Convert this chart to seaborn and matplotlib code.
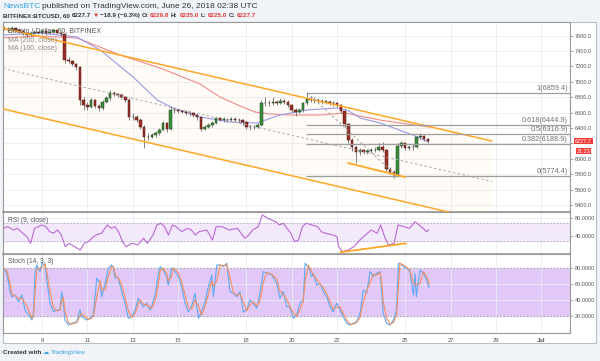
import matplotlib
matplotlib.use("Agg")
import numpy as np
import pandas as pd
import matplotlib.pyplot as plt
import seaborn as sns
from matplotlib.patches import Rectangle

# ---- price data: 4h candles from June 7 08:00 (x in "June day" units) ----
first_open = 7700
closes = [
    7690, 7670, 7700, 7680,
    7660, 7640, 7610, 7630, 7650, 7640,
    7660, 7630, 7650, 7670, 7640, 7620,
    7280, 7270, 7230, 7190, 6760, 6700,
    6680, 6760, 6690, 6660, 6740, 6790,
    6860, 6840, 6830, 6800, 6770, 6540,
    6550, 6510, 6420, 6280, 6290, 6310,
    6330, 6380, 6460, 6390, 6640, 6630,
    6620, 6610, 6600, 6590, 6570, 6540,
    6390, 6420, 6440, 6470, 6530, 6510,
    6510, 6500, 6520, 6510, 6500, 6480,
    6420, 6410, 6420, 6440, 6720, 6730,
    6720, 6740, 6730, 6750, 6740, 6700,
    6640, 6610, 6630, 6720, 6780, 6770,
    6760, 6750, 6740, 6740, 6730, 6720,
    6700, 6620, 6450, 6250, 6150, 6090,
    6110, 6090, 6100, 6110, 6120, 6150,
    6120, 5870, 5830, 5790, 6170, 6200,
    6140, 6150, 6160, 6280, 6300, 6260,
    6228,
]
highs = [
    7720, 7710, 7720, 7715,
    7695, 7670, 7650, 7645, 7670, 7665,
    7680, 7670, 7665, 7690, 7680, 7650,
    7630, 7320, 7290, 7250, 7200, 6800,
    6740, 6790, 6780, 6710, 6760, 6820,
    6890, 6880, 6860, 6850, 6820, 6790,
    6590, 6570, 6530, 6440, 6330, 6340,
    6360, 6400, 6490, 6480, 6690, 6670,
    6650, 6640, 6630, 6620, 6600, 6590,
    6550, 6440, 6460, 6490, 6550, 6550,
    6540, 6530, 6550, 6540, 6530, 6520,
    6490, 6440, 6440, 6470, 6760, 6800,
    6760, 6800, 6770, 6790, 6780, 6760,
    6710, 6660, 6660, 6740, 6860, 6820,
    6800, 6790, 6780, 6770, 6760, 6750,
    6740, 6710, 6630, 6460, 6270, 6170,
    6140, 6130, 6130, 6140, 6160, 6200,
    6220, 6130, 5890, 5850, 6200, 6230,
    6210, 6180, 6190, 6300, 6330, 6310,
    6270,
]
lows = [
    7670, 7650, 7660, 7665,
    7640, 7610, 7580, 7595, 7620, 7620,
    7625, 7610, 7620, 7640, 7620, 7590,
    7250, 7240, 7200, 7160, 6700, 6640,
    6640, 6660, 6660, 6620, 6640, 6720,
    6770, 6820, 6800, 6780, 6740, 6500,
    6500, 6480, 6390, 6140, 6240, 6270,
    6290, 6310, 6370, 6350, 6380, 6600,
    6590, 6590, 6570, 6560, 6540, 6500,
    6360, 6370, 6400, 6420, 6450, 6490,
    6480, 6480, 6490, 6490, 6470, 6440,
    6390, 6380, 6390, 6400, 6430, 6690,
    6690, 6700, 6700, 6710, 6710, 6670,
    6610, 6560, 6590, 6610, 6700, 6740,
    6730, 6720, 6710, 6710, 6700, 6690,
    6670, 6590, 6420, 6200, 6100, 5945,
    6050, 6060, 6060, 6070, 6090, 6100,
    6090, 5840, 5800, 5755, 5780, 6140,
    6110, 6110, 6120, 6140, 6260, 6230,
    6210,
]
candle_day = 7 + 8 / 24 + np.arange(len(closes)) / 6

# moving averages (read at coarse points)
ma200_day = [7.28, 8.91, 10.54, 12.44, 14.20, 15.08, 15.96, 16.84, 17.72, 18.38,
             19.04, 19.93, 21.25, 22.35, 23.01, 23.89, 24.77, 26.09]
ma200_val = [7570, 7596, 7570, 7349, 7180, 7077, 6973, 6804, 6687, 6609,
             6583, 6570, 6570, 6596, 6557, 6505, 6466, 6414]
ma100_day = [7.28, 8.91, 10.54, 11.56, 13.01, 14.07, 14.77, 15.96, 17.28, 18.47,
             19.48, 20.67, 21.99, 22.44, 23.01, 23.89, 25.34, 26.0]
ma100_val = [7609, 7635, 7583, 7414, 7064, 6765, 6661, 6544, 6479, 6466,
             6570, 6635, 6661, 6635, 6531, 6466, 6310, 6219]

# drawings
channel_day = [7.28, 28.82]
channel_upper = [7700, 6232]
channel_lower = [6648, 5180]
fib_start_day = 20.63
fib_ratio = ["1", "0.618", "0.5", "0.382", "0"]
fib_price = [6859.4, 6444.9, 6316.9, 6188.9, 5774.4]
fib_diag_day = [20.68, 24.64]
fib_diag_price = [6859.4, 5774.4]
support_day = [22.48, 24.99]
support_price = [5946, 5764]

# RSI (9, close)
rsi_day = [7.28, 7.49, 7.74, 7.91, 8.08, 8.33, 8.50, 8.67, 8.84, 9.00, 9.17, 9.34,
           9.51, 9.68, 9.85, 10.02, 10.19, 10.44, 10.69, 10.86, 11.03, 11.19, 11.37,
           11.62, 11.87, 12.04, 12.21, 12.37, 12.55, 12.71, 12.96, 13.22, 13.47, 13.64,
           13.89, 14.06, 14.23, 14.40, 14.57, 14.74, 14.90, 15.16, 15.41, 15.58, 15.75,
           15.92, 16.26, 16.51, 16.67, 16.93, 17.26, 17.60, 17.77, 17.94, 18.11, 18.28,
           18.53, 18.70, 18.95, 19.29, 19.46, 19.63, 19.79, 19.96, 20.13, 20.30, 20.47,
           20.64, 20.89, 21.14, 21.31, 21.48, 21.82, 21.99, 22.07, 22.24, 22.49, 22.74,
           23.00, 23.25, 23.50, 23.76, 23.92, 24.09, 24.26, 24.51, 24.68, 24.94, 25.19,
           25.44, 25.70, 25.95, 26.03]
rsi_val = [57.7, 61.2, 54.0, 57.7, 50.3, 39.4, 24.9, 57.7, 61.2, 64.9, 61.2, 50.3,
           46.8, 54.0, 43.0, 17.5, 24.9, 17.5, 10.3, 24.9, 28.5, 35.8, 43.0,
           46.8, 64.9, 57.7, 61.2, 50.3, 28.5, 17.5, 24.9, 21.2, 35.8, 24.9,
           43.0, 64.9, 68.6, 61.2, 43.0, 64.9, 61.2, 50.3, 57.7, 54.0, 43.0,
           50.3, 54.0, 32.1, 61.2, 61.2, 54.0, 57.7, 46.8, 35.8, 43.0, 54.0,
           61.2, 86.8, 79.6, 72.1, 64.9, 68.6, 57.7, 46.8, 28.5, 32.1, 61.2,
           68.6, 64.9, 61.2, 50.3, 46.8, 43.0, 39.4, 17.5, 6.6, 10.3, 17.5,
           32.1, 43.0, 54.0, 46.8, 64.9, 39.4, 21.2, 24.9, 64.9, 61.2, 57.7,
           72.1, 61.2, 50.3, 54.0]
rsi_trend_day = [22.13, 25.04]
rsi_trend_val = [5.2, 24.9]

# Stoch (14, 3, 3) %K
stoch_day = [7.30, 7.45, 7.59, 7.67, 7.81, 7.96, 8.11, 8.25, 8.47, 8.55, 8.62, 8.69,
             8.77, 8.91, 8.99, 9.13, 9.21, 9.35, 9.50, 9.65, 9.79, 9.87, 9.94, 10.01,
             10.16, 10.31, 10.53, 10.67, 10.75, 10.97, 11.11, 11.26, 11.41, 11.56, 11.63,
             11.78, 11.92, 12.07, 12.14, 12.22, 12.29, 12.36, 12.51, 12.66, 12.80, 12.95,
             13.10, 13.24, 13.32, 13.46, 13.61, 13.76, 13.83, 13.98, 14.12, 14.20, 14.34,
             14.49, 14.56, 14.71, 14.78, 15.00, 15.15, 15.30, 15.44, 15.59, 15.74, 15.89,
             16.03, 16.18, 16.33, 16.48, 16.55, 16.70, 16.84, 16.99, 17.14, 17.28, 17.43,
             17.58, 17.72, 17.87, 18.02, 18.16, 18.31, 18.46, 18.60, 18.75, 18.90, 19.12,
             19.34, 19.48, 19.63, 19.78, 19.92, 20.07, 20.22, 20.37, 20.51, 20.59, 20.73,
             20.88, 20.95, 21.10, 21.25, 21.39, 21.54, 21.69, 21.83, 21.98, 22.13, 22.27,
             22.42, 22.57, 22.71, 22.86, 23.01, 23.15, 23.30, 23.45, 23.59, 23.74, 23.89,
             23.96, 24.03, 24.18, 24.33, 24.48, 24.62, 24.70, 24.77, 24.92, 25.07, 25.21,
             25.36, 25.43, 25.49, 25.65, 25.80, 25.95, 26.06]
stoch_k = [80.0, 73.7, 50.6, 44.3, 46.4, 38.0, 46.4, 27.5, 19.1, 15.0, 23.4, 73.7,
           84.2, 75.8, 86.3, 84.2, 65.3, 36.0, 25.4, 27.5, 27.5, 50.6, 36.0, 15.0,
           8.7, 10.8, 12.8, 27.5, 19.1, 15.0, 17.1, 21.3, 67.4, 61.1, 44.3,
           61.1, 80.0, 84.2, 80.0, 67.4, 69.5, 67.4, 50.6, 36.0, 17.1, 19.1,
           27.5, 42.3, 38.0, 31.7, 36.0, 27.5, 31.7, 46.4, 71.6, 82.0, 77.9,
           69.5, 59.0, 80.0, 80.0, 69.5, 56.9, 36.0, 25.4, 31.7, 48.6, 17.1,
           25.4, 38.0, 56.9, 71.6, 44.3, 84.2, 84.2, 82.0, 86.3, 50.6, 48.6,
           44.3, 50.6, 25.4, 27.5, 40.1, 36.0, 29.7, 48.6, 75.8, 73.7, 71.6,
           61.1, 42.3, 50.6, 31.7, 31.7, 17.1, 21.3, 37.0, 40.1, 86.3, 82.0,
           69.5, 73.7, 59.0, 61.1, 50.6, 44.3, 31.7, 25.4, 36.0, 27.5, 19.1,
           10.8, 8.7, 10.8, 12.8, 23.4, 52.7, 48.6, 75.8, 69.5, 73.7, 75.8,
           52.7, 23.4, 10.8, 8.7, 15.0, 27.5, 86.3, 86.3, 82.0, 80.0, 75.8,
           46.4, 73.7, 44.3, 77.9, 73.7, 65.3, 55.0]

day_ticks = [9, 11, 13, 15, 18, 20, 22, 25, 27, 29, 31]
day_labels = ["9", "11", "13", "15", "18", "20", "22", "25", "27", "29", "Jul"]
price_ticks = list(range(5400, 7601, 200))
# the 6200.0 label sits under the last-price tag in the reference
price_labels = ["" if p == 6200 else f"{p:.1f}" for p in price_ticks]

W, H = 600, 361
GRID = "#e9eef4"
AXTXT = "#555555"


def fx(px):
    return px / W


def fy(py):
    return 1 - py / H


def seq_text(fig, x_px, y_px, parts, size, gap=1.6):
    renderer = fig.canvas.get_renderer()
    x = x_px
    for s, color, weight in parts:
        t = fig.text(fx(x), fy(y_px), s, color=color, fontweight=weight,
                     fontsize=size, va="baseline", ha="left")
        x += t.get_window_extent(renderer).width + gap


def style_axis(ax, yticks, ylabels, ylim):
    ax.set_facecolor("white")
    ax.set_xlim(7.28, 32.26)
    ax.set_ylim(*ylim)
    ax.yaxis.tick_right()
    ax.set_yticks(yticks)
    ax.set_yticklabels(ylabels)
    ax.set_xticks(day_ticks)
    ax.tick_params(axis="y", length=2, width=0.5, pad=1.5, labelsize=4.0,
                   colors="#888888", labelcolor=AXTXT, right=True)
    ax.tick_params(axis="x", length=0, labelbottom=False)
    ax.grid(True, color=GRID, lw=0.6)
    ax.set_axisbelow(True)
    for s in ax.spines.values():
        s.set_color("#9a9a9a")
        s.set_linewidth(0.8)
    ax.set_xlabel("")
    ax.set_ylabel("")


sns.set_theme(style="white")
plt.rcParams["font.family"] = ["Liberation Sans", "DejaVu Sans"]

fig = plt.figure(figsize=(W / 100, H / 100), dpi=100, facecolor="#f0f3f7")
fig.patches.append(Rectangle((fx(3), fy(343)), fx(593), (343 - 22) / H,
                             transform=fig.transFigure, facecolor="white",
                             edgecolor="#b8bec6", lw=0.8, zorder=-5))

ax = fig.add_axes([fx(3), fy(212), fx(567), 190 / H])
ax_rsi = fig.add_axes([fx(3), fy(254), fx(567), 42 / H], sharex=ax)
ax_st = fig.add_axes([fx(3), fy(333), fx(567), 79 / H], sharex=ax)

# ---- main price panel ----
style_axis(ax, price_ticks, price_labels, (5310, 7778))

ax.fill_between(channel_day, channel_lower, channel_upper, color="#ffa726",
                alpha=0.04, lw=0, zorder=1)
sns.lineplot(x=ma200_day, y=ma200_val, ax=ax, color="#f28b8b", lw=0.8, zorder=2)
sns.lineplot(x=ma100_day, y=ma100_val, ax=ax, color="#9b9be6", lw=0.8, zorder=2)

closes_a = np.array(closes, dtype=float)
opens_a = np.r_[first_open, closes_a[:-1]]
up = closes_a >= opens_a
body_col = np.where(up, "#3a8f3a", "#9c2f2a")
edge_col = np.where(up, "#1f3d24", "#4a1410")
ax.vlines(candle_day, lows, highs, color="#6f6f6f", lw=0.6, zorder=3)
ax.bar(candle_day, np.maximum(np.abs(closes_a - opens_a), 8),
       bottom=np.minimum(closes_a, opens_a), width=0.11, color=body_col,
       edgecolor=edge_col, linewidth=0.35, zorder=4)

mid = [(u + l) / 2 for u, l in zip(channel_upper, channel_lower)]
ax.plot(channel_day, channel_upper, color="#ffa726", lw=1.1, zorder=5)
ax.plot(channel_day, channel_lower, color="#ffa726", lw=1.1, zorder=5)
ax.plot(channel_day, mid, color="#a8a8a8", lw=0.7, ls=(0, (2.5, 2.5)), zorder=5)

for r, p in zip(fib_ratio, fib_price):
    ax.hlines(p, fib_start_day, 32.26, color="#9e9e9e", lw=0.9, zorder=5)
    ax.text(32.17, p + 14, f"{r}({p})", ha="right", va="bottom",
            fontsize=5.2, color="#707070", zorder=6)
ax.plot(fib_diag_day, fib_diag_price, color="#a0a0a0", lw=0.7,
        ls=(0, (2.5, 2.5)), zorder=5)
ax.plot(support_day, support_price, color="#ffa726", lw=1.3, zorder=6)

ax.text(0.0088, 0.953, "Bitcoin / Dollar, 60, BITFINEX", transform=ax.transAxes,
        fontsize=5.0, color=AXTXT, va="center", zorder=7)
ax.text(0.0088, 0.905, "MA (200, close)", transform=ax.transAxes,
        fontsize=5.0, color="#8a8a8a", va="center", zorder=7)
ax.text(0.0088, 0.863, "MA (100, close)", transform=ax.transAxes,
        fontsize=5.0, color="#8a8a8a", va="center", zorder=7)

# ---- RSI panel ----
style_axis(ax_rsi, [40, 80], ["40.0000", "80.0000"], (1.5, 93.3))
ax_rsi.axhspan(30, 70, color="#f4e8fd", zorder=0.5)
for lvl in (30, 70):
    ax_rsi.axhline(lvl, color="#b0a8b8", lw=0.6, ls=(0, (2, 2)), zorder=1)
sns.lineplot(x=rsi_day, y=rsi_val, ax=ax_rsi, color="#b86ad2", lw=0.8, zorder=3)
ax_rsi.plot(rsi_trend_day, rsi_trend_val, color="#ffa726", lw=1.3, zorder=4)
ax_rsi.text(0.0088, 0.79, "RSI (9, close)", transform=ax_rsi.transAxes,
            fontsize=4.8, color=AXTXT, va="center")

# ---- Stoch panel ----
style_axis(ax_st, [20, 40, 60, 80], ["20.0000", "40.0000", "60.0000", "80.0000"],
           (-1.4, 98))
ax_st.axhspan(20, 80, color="#e1c8f8", zorder=0.5)
for lvl in (20, 80):
    ax_st.axhline(lvl, color="#9a92a2", lw=0.6, ls=(0, (2, 2)), zorder=1)
stoch_d = pd.Series(stoch_k).rolling(2, min_periods=1).mean()
sns.lineplot(x=stoch_day, y=stoch_k, ax=ax_st, color="#5ea9f5", lw=0.8, zorder=3)
sns.lineplot(x=stoch_day, y=stoch_d.values, ax=ax_st, color="#f5905c", lw=0.8,
             zorder=3)
ax_st.text(0.0088, 0.9, "Stoch (14, 3, 3)", transform=ax_st.transAxes,
           fontsize=4.8, color=AXTXT, va="center")
ax_st.set_xticklabels(day_labels)
ax_st.tick_params(axis="x", labelbottom=True, length=2, width=0.5, pad=1.5,
                  labelsize=4.2, labelcolor=AXTXT, colors="#888888")
ax_st.get_xticklabels()[-1].set_fontweight("bold")

for a in (ax, ax_rsi):
    a.spines["bottom"].set_color("#8a8a8a")
    a.spines["bottom"].set_linewidth(1.1)

# last price tags
fig.text(fx(583.5), fy(141.3), "6227.7", ha="center", va="center", fontsize=4.0,
         color="white", bbox=dict(boxstyle="square,pad=0.12", fc="#f23c3c", ec="none"))
fig.text(fx(583.5), fy(151.3), "21:23", ha="center", va="center", fontsize=4.0,
         color="white", bbox=dict(boxstyle="square,pad=0.12", fc="#f23c3c", ec="none"))

# header
seq_text(fig, 3, 8.5, [("NewsBTC", "#3ba3e6", "normal"),
                       ("published on TradingView.com, June 26, 2018 02:38 UTC",
                        "#333333", "normal")], 6.0)
seq_text(fig, 3, 17.3, [("BITFINEX:BTCUSD, 60", "#333333", "bold"),
                        ("6227.7", "#333333", "bold"),
                        ("\u25bc", "#e53935", "bold"),
                        ("\u221218.9 (\u22120.3%)", "#333333", "bold"),
                        ("O:", "#333333", "bold"), ("6229.8", "#e53935", "bold"),
                        ("H:", "#333333", "bold"), ("6235.0", "#e53935", "bold"),
                        ("L:", "#333333", "bold"), ("6225.0", "#e53935", "bold"),
                        ("C:", "#333333", "bold"), ("6227.7", "#e53935", "bold")], 4.5)

# footer
seq_text(fig, 3, 354, [("Created with", "#333333", "bold"),
                       ("\u2601", "#3ba3e6", "normal"),
                       ("TradingView", "#3ba3e6", "normal")], 4.6)

fig.savefig("out.png", dpi=100, facecolor=fig.get_facecolor())
